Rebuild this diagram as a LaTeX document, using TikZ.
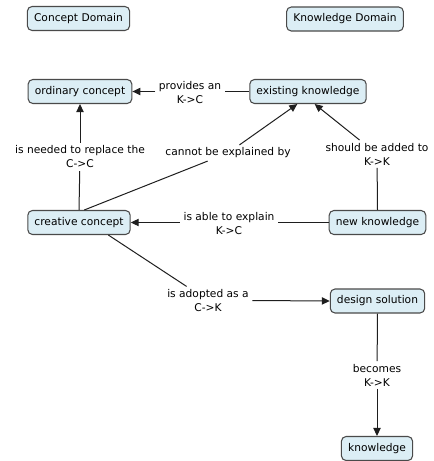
\documentclass[tikz,border=0pt]{standalone}
\usepackage{fontspec}
\setmainfont{DejaVu Sans}
\usetikzlibrary{arrows.meta}
\definecolor{boxfill}{HTML}{DCEEF5}
\definecolor{boxline}{HTML}{4A4A4A}
\definecolor{conline}{HTML}{1E1E1E}
\begin{document}
\begin{tikzpicture}[x=0.75pt,y=-0.75pt,
  concept/.style={draw=boxline,fill=boxfill,rounded corners=3.5pt,line width=0.8pt,
    minimum height=18pt,inner xsep=5pt,inner ysep=2pt,font=\fontsize{8}{10.5}\selectfont},
  linklabel/.style={inner xsep=2.5pt,inner ysep=2pt,align=center,font=\fontsize{8}{10.5}\selectfont},
  con/.style={draw=conline,line width=0.75pt},
  arr/.style={con,-{Triangle[length=6pt,width=5.5pt]}}]
\useasboundingbox (0,0) rectangle (433,461);
% concepts
\node[concept] (cd) at (78.5,18.5) {Concept Domain};
\node[concept] (kd) at (345,19) {Knowledge Domain};
\node[concept] (oc) at (80,91.5) {ordinary concept};
\node[concept] (ek) at (308,91.5) {existing knowledge};
\node[concept] (cc) at (79,222.5) {creative concept};
\node[concept] (nk) at (377.5,222.5) {new knowledge};
\node[concept] (ds) at (377.5,301) {design solution};
\node[concept] (kn) at (377,448.5) {knowledge};
% link labels
\node[linklabel] (prov) at (190,93) {provides an\\K->C};
\node[linklabel] (need) at (80,157) {is needed to replace the\\C->C};
\node[linklabel] (cant) at (228,153) {cannot be explained by};
\node[linklabel] (shld) at (377,154) {should be added to\\K->K};
\node[linklabel] (able) at (229,223.5) {is able to explain\\K->C};
\node[linklabel] (adop) at (208,300.5) {is adopted as a\\C->K};
\node[linklabel] (becm) at (377,375) {becomes\\K->K};
% connectors
\draw[con] (ek.west) -- (prov.east |- ek.west);
\draw[arr] (prov.west |- oc.east) -- (oc.east);
\draw[con] (cc.north) -- (need);
\draw[arr] (need) -- (oc.south);
\draw[con] ([xshift=4]cc.north) -- (cant);
\draw[arr] (cant) -- ([xshift=-8]ek.south);
\draw[con] (nk.north) -- (shld);
\draw[arr] (shld) -- ([xshift=5]ek.south);
\draw[con] (nk.west) -- (able.east |- nk.west);
\draw[arr] (able.west |- cc.east) -- (cc.east);
\draw[con] ([xshift=22]cc.south) -- (adop);
\draw[arr] (adop.east) -- (ds.west);
\draw[con] (ds.south) -- (becm);
\draw[arr] (becm) -- (kn.north);
\end{tikzpicture}
\end{document}
